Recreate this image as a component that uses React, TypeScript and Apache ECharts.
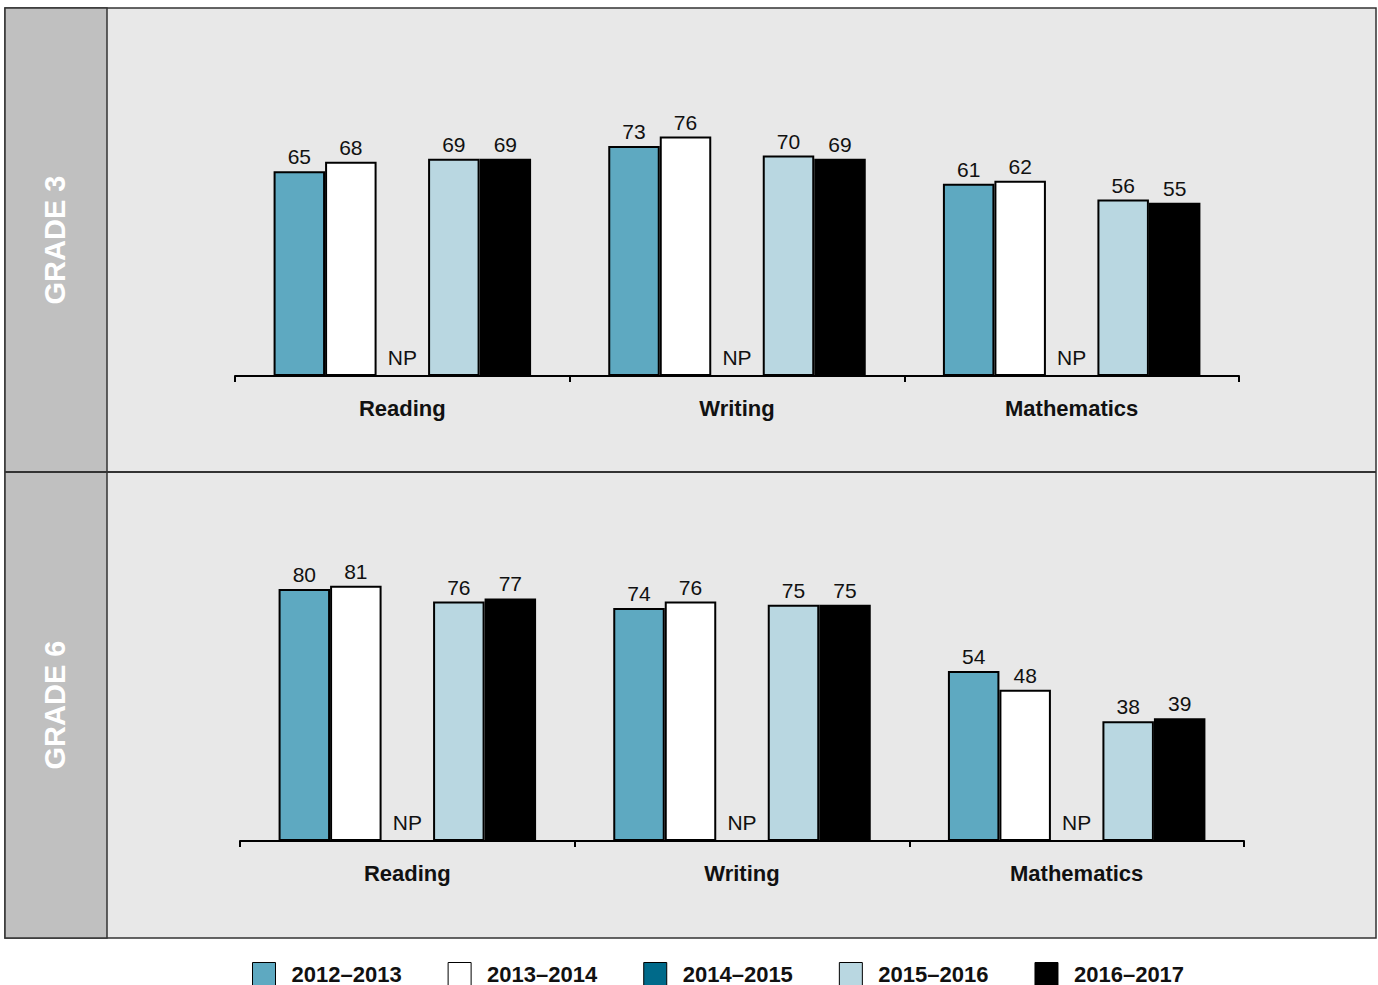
import React, { useEffect, useRef } from "react";
import * as echarts from "echarts";

const categories = ["Reading", "Writing", "Mathematics"];
const years = ["2012–2013", "2013–2014", "2014–2015", "2015–2016", "2016–2017"];
const yearColors = ["#5ea9c1", "#ffffff", "#006a8a", "#b9d7e1", "#000000"];
const grades = ["GRADE 3", "GRADE 6"];
// values per year, per category; null = not participating (NP)
const grade3Values: (number | null)[][] = [
  [65, 73, 61],
  [68, 76, 62],
  [null, null, null],
  [69, 70, 56],
  [69, 69, 55],
];
const grade6Values: (number | null)[][] = [
  [80, 74, 54],
  [81, 76, 48],
  [null, null, null],
  [76, 75, 38],
  [77, 75, 39],
];
const npLabel = "NP";

export default function App() {
  const ref = useRef<HTMLDivElement>(null);
  useEffect(() => {
    document.body.style.margin = "0";
    const chart = echarts.init(ref.current!, null, { renderer: "svg" });
    const font = "Liberation Sans, Arial, sans-serif";
    const grids = [
      { left: 235, right: 139, top: 61, bottom: 609 },
      { left: 240, right: 134, top: 526, bottom: 144 },
    ];
    const xAxis = grids.map((_, i) => ({
      type: "category",
      gridIndex: i,
      data: categories,
      axisLine: { lineStyle: { color: "#000", width: 2 } },
      axisTick: { show: true, length: 6, lineStyle: { color: "#000", width: 2 } },
      axisLabel: {
        margin: 21,
        fontFamily: font,
        fontSize: 22,
        fontWeight: "bold",
        color: "#111",
      },
    }));
    const yAxis = grids.map((_, i) => ({
      type: "value",
      gridIndex: i,
      min: 0,
      max: 100,
      show: false,
      splitLine: { show: false },
    }));
    const series: any[] = [];
    [grade3Values, grade6Values].forEach((vals, gi) => {
      vals.forEach((arr, yi) => {
        const isNP = arr.every((v) => v === null);
        series.push({
          type: "bar",
          name: years[yi],
          xAxisIndex: gi,
          yAxisIndex: gi,
          barWidth: 51.5,
          barGap: "0%",
          data: arr.map((v) => (v === null ? 0 : v)),
          itemStyle: {
            color: yearColors[yi],
            borderColor: "#000",
            borderWidth: isNP ? 0 : 2,
          },
          label: {
            show: true,
            position: "top",
            distance: isNP ? 8 : 4,
            formatter: isNP ? npLabel : "{c}",
            fontFamily: font,
            fontSize: 21,
            color: "#111",
          },
        });
      });
    });
    const graphic: any[] = [
      {
        type: "rect",
        z: -10,
        shape: { x: 5, y: 8, width: 1371, height: 930 },
        style: { fill: "#e8e8e8", stroke: "#333", lineWidth: 1.5 },
      },
      {
        type: "rect",
        z: -9,
        shape: { x: 5, y: 8, width: 102, height: 930 },
        style: { fill: "#c0c0c0", stroke: "#333", lineWidth: 1.5 },
      },
      {
        type: "line",
        z: -8,
        shape: { x1: 5, y1: 472, x2: 1376, y2: 472 },
        style: { stroke: "#333", lineWidth: 2 },
      },
      ...grades.map((g, i) => ({
        type: "text",
        z: -7,
        x: 55,
        y: i === 0 ? 240 : 705,
        rotation: Math.PI / 2,
        style: {
          text: g,
          fill: "#fff",
          font: `bold 29px ${font}`,
          align: "center",
          verticalAlign: "middle",
        },
      })),
    ];
    chart.setOption({
      animation: false,
      grid: grids,
      xAxis,
      yAxis,
      series,
      graphic,
      legend: {
        left: 252,
        top: 962,
        padding: 0,
        icon: "rect",
        itemWidth: 23,
        itemHeight: 23,
        itemGap: 46,
        data: years.map((y) => ({
          name: y,
          itemStyle: { borderColor: "#000", borderWidth: 1 },
        })),
        textStyle: {
          fontFamily: font,
          fontSize: 22,
          fontWeight: "bold",
          color: "#111",
          padding: [0, 0, 0, 11],
        },
      },
    });
    return () => chart.dispose();
  }, []);
  return <div ref={ref} style={{ width: 1378, height: 985 }} />;
}
